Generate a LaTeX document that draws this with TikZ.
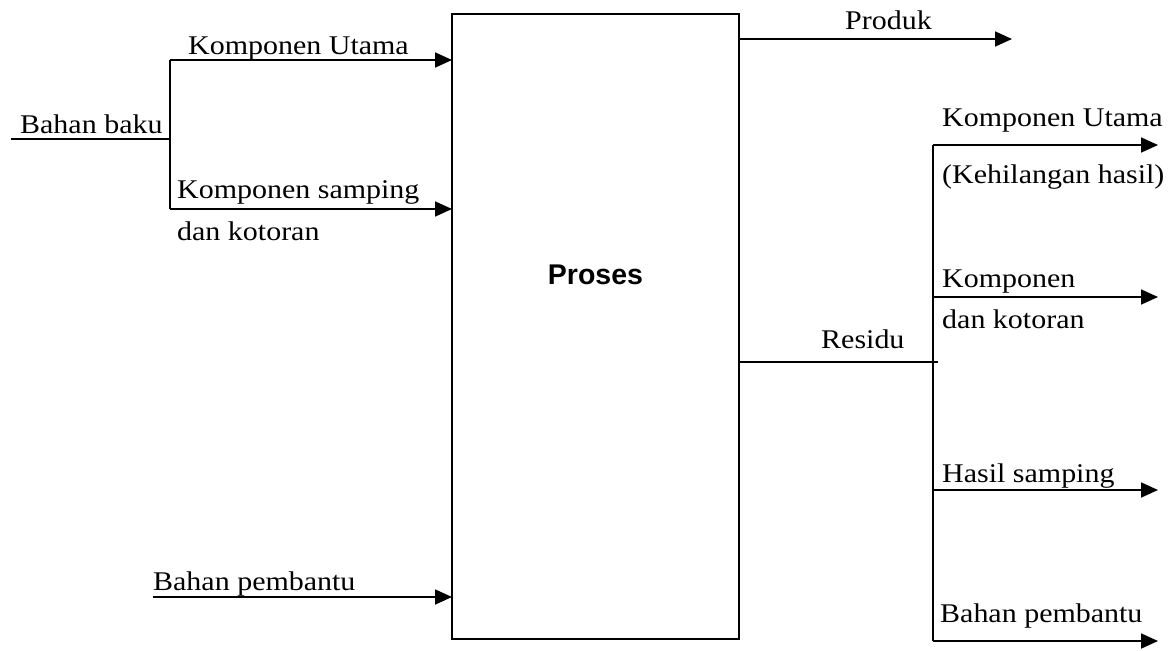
\documentclass[tikz,border=0pt]{standalone}
\usepackage{fontspec}
\setmainfont{Liberation Serif}[FakeStretch=1.11]
\newfontfamily\procfont{Liberation Sans}
\usetikzlibrary{arrows.meta}

\tikzset{
    flow/.style={line width=1.8pt},
    flowarrow/.style={flow, -{Triangle[length=17pt,width=15pt]}},
    lbl/.style={anchor=base west, inner sep=0pt, font=\fontsize{27}{31}\selectfont},
}

\begin{document}
\begin{tikzpicture}[
    x=1pt,
    y=-1pt,
]

% Page frame
\useasboundingbox (0,0) rectangle (1174,650);

% Process box
\coordinate (boxNW) at (452,14);
\coordinate (boxSE) at (739,639);
\draw[flow] (boxNW) rectangle (boxSE);
\node[inner sep=0pt, anchor=base, font=\procfont\bfseries\fontsize{28.5}{32}\selectfont] (proses) at (595.5,284) {Proses};

% Inputs
\coordinate (bbIn) at (11,139);
\coordinate (bbJ) at (170,139);
\coordinate (kuL) at (170,60);
\coordinate (kuR) at (452,60);
\coordinate (ksL) at (170,209);
\coordinate (ksR) at (452,209);
\coordinate (bpL) at (153,597);
\coordinate (bpR) at (452,597);

\draw[flow] (bbIn) -- (bbJ);
\draw[flow] (kuL) -- (ksL);
\draw[flowarrow] (kuL) -- (kuR);
\draw[flowarrow] (ksL) -- (ksR);
\draw[flowarrow] (bpL) -- (bpR);

\node[lbl] (bahanBaku) at (20,133) {Bahan baku};
\node[lbl] (kompUtamaIn) at (188,55) {Komponen Utama};
\node[lbl] (kompSamping) at (177,198) {Komponen samping};
\node[lbl] (danKotoranIn) at (177,240) {dan kotoran};
\node[lbl] (bahanPembantuIn) at (153,590) {Bahan pembantu};

% Outputs
\coordinate (prL) at (739,39);
\coordinate (prR) at (1012,39);
\coordinate (reL) at (739,362);
\coordinate (reJ) at (938,362);
\coordinate (vT) at (933,145);
\coordinate (vB) at (933,641);

\draw[flowarrow] (prL) -- (prR);
\draw[flow] (reL) -- (reJ);
\draw[flow] (vT) -- (vB);

\foreach \y/\name in {145/oKu, 297/oKd, 490/oHs, 641/oBp}
    \draw[flowarrow] (933,\y) coordinate (\name L) -- (1158,\y) coordinate (\name R);

\node[lbl] (produk) at (845,30) {Produk};
\node[lbl] (residu) at (821,348) {Residu};
\node[lbl] (kompUtamaOut) at (942,127) {Komponen Utama};
\node[lbl] (kehilangan) at (942,183) {(Kehilangan hasil)};
\node[lbl] (komponenOut) at (942,287) {Komponen};
\node[lbl] (danKotoranOut) at (942,328) {dan kotoran};
\node[lbl] (hasilSamping) at (942,482) {Hasil samping};
\node[lbl] (bahanPembantuOut) at (940,622) {Bahan pembantu};

\end{tikzpicture}
\end{document}
